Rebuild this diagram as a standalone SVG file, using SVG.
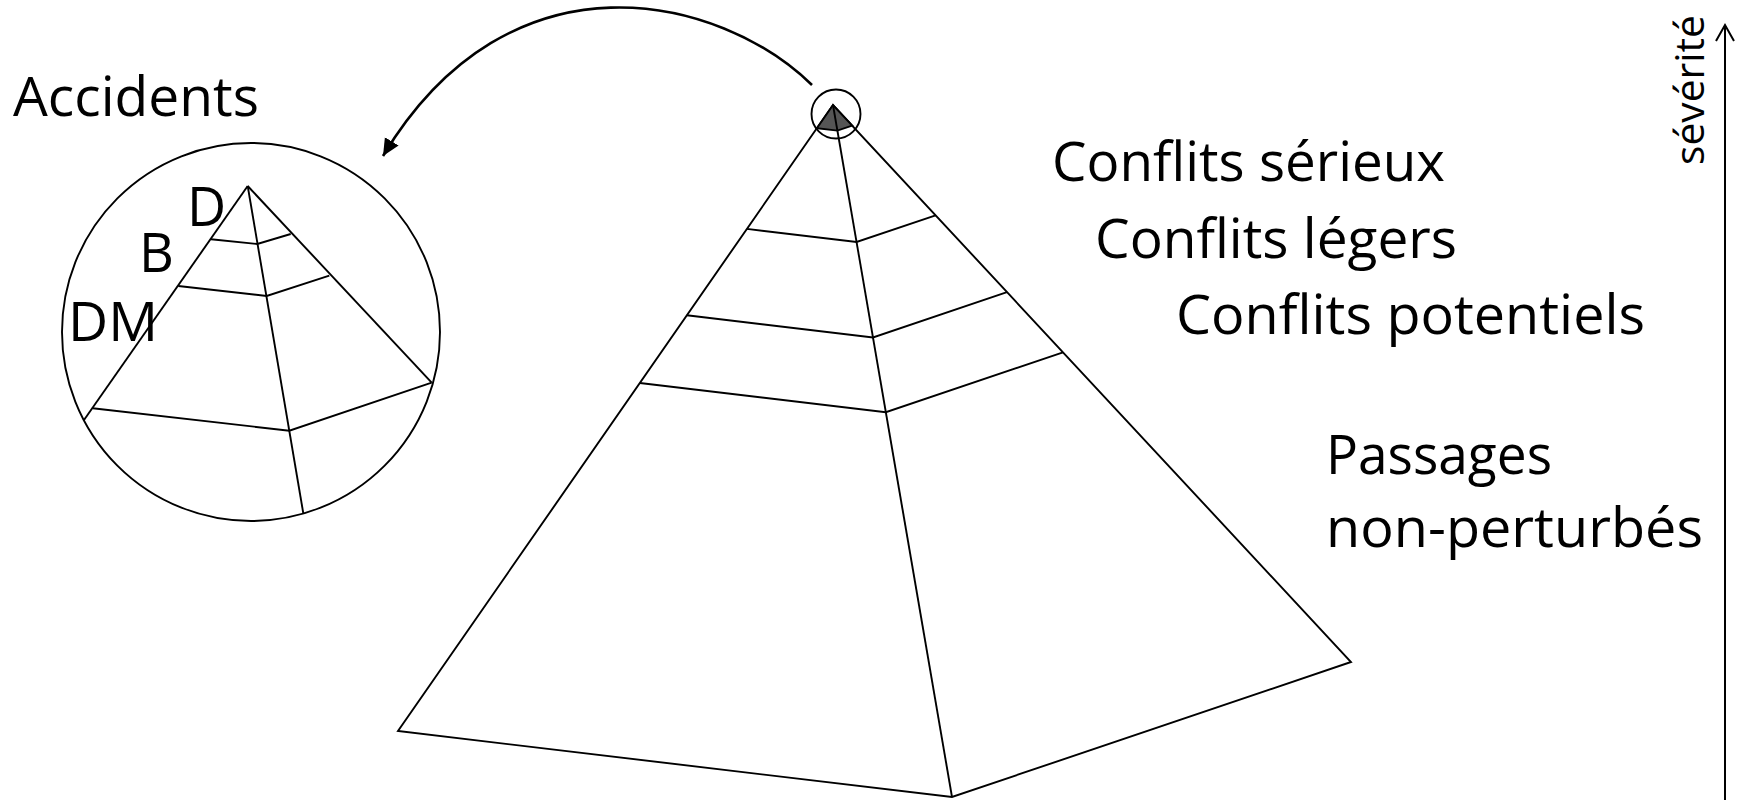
<svg xmlns="http://www.w3.org/2000/svg" width="1742" height="800" viewBox="0 0 1742 800">
<style>
.ln{fill:none;stroke:#000;stroke-width:1.9;stroke-linejoin:miter}
.lbl{font-family:"Open Sans","Noto Sans","Liberation Sans",sans-serif;font-size:54px;fill:#000}
</style>
<defs>
<marker id="ah" markerUnits="userSpaceOnUse" markerWidth="20" markerHeight="18" refX="17" refY="8" orient="auto">
<path d="M0,0 L17,8 L0,16 z" fill="#000"/>
</marker>
</defs>
<rect width="1742" height="800" fill="#fff"/>

<g id="main-pyramid">
<polygon class="ln" points="833,105 398,731 952,797 1351,662"/>
<line class="ln" x1="833" y1="105" x2="952" y2="797"/>
<polyline class="ln" points="746.9,228.9 856.6,242 935.6,215.3"/>
<polyline class="ln" points="686.8,315.3 873,337.5 1007,292.2"/>
<polyline class="ln" points="639.9,383 885.8,412.2 1063,352.3"/>
<polygon points="833,105 816.9,128.2 837.4,130.6 852.2,125.6" fill="#555" stroke="#000" stroke-width="1.9"/>
<line class="ln" x1="833" y1="105" x2="837.4" y2="130.6"/>
<circle class="ln" cx="836" cy="114" r="24.5"/>
</g>

<g id="zoom-pyramid">
<circle class="ln" cx="251" cy="332" r="189"/>
<line class="ln" x1="247.7" y1="186" x2="84" y2="420"/>
<line class="ln" x1="247.7" y1="186" x2="303.3" y2="513.3"/>
<line class="ln" x1="247.7" y1="186" x2="431.7" y2="382.7"/>
<polyline class="ln" points="211,239.3 257.3,244 290.7,234"/>
<polyline class="ln" points="178.3,286 266.7,296 329.3,275.7"/>
<polyline class="ln" points="92.7,408.3 289.3,430.7 431.7,382.7"/>
<text class="lbl" x="187" y="226">D</text>
<text class="lbl" x="139" y="272">B</text>
<text class="lbl" x="68" y="341" textLength="90" lengthAdjust="spacingAndGlyphs">DM</text>
</g>

<g id="connectors">
<path d="M812,85 C720,-5 510,-55 383,156" fill="none" stroke="#000" stroke-width="2.6" marker-end="url(#ah)"/>
<line x1="1725" y1="800" x2="1725" y2="25" stroke="#000" stroke-width="2"/>
<polyline points="1716,41 1725,25 1734,41" fill="none" stroke="#000" stroke-width="2"/>
</g>

<g id="labels">
<text class="lbl" x="13" y="116" textLength="246" lengthAdjust="spacingAndGlyphs">Accidents</text>
<text class="lbl" x="1052" y="181" textLength="393" lengthAdjust="spacingAndGlyphs">Conflits sérieux</text>
<text class="lbl" x="1095" y="258" textLength="362" lengthAdjust="spacingAndGlyphs">Conflits légers</text>
<text class="lbl" x="1176" y="334" textLength="469" lengthAdjust="spacingAndGlyphs">Conflits potentiels</text>
<text class="lbl" x="1326" y="474" textLength="226" lengthAdjust="spacingAndGlyphs">Passages</text>
<text class="lbl" x="1326" y="547" textLength="377" lengthAdjust="spacingAndGlyphs">non-perturbés</text>
<text class="lbl" transform="translate(1704,165) rotate(-90)" x="0" y="0" style="font-size:40px" textLength="150" lengthAdjust="spacingAndGlyphs">sévérité</text>
</g>
</svg>
